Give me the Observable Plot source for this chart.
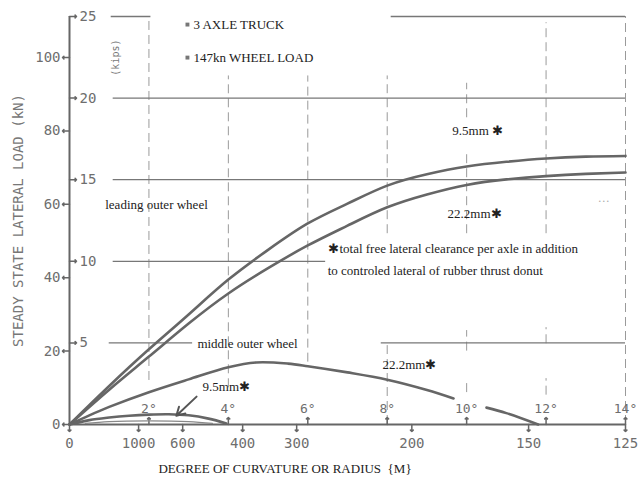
<!DOCTYPE html>
<html><head><meta charset="utf-8">
<script src="https://cdn.jsdelivr.net/npm/d3@7"></script>
<script src="https://cdn.jsdelivr.net/npm/@observablehq/plot@0.6"></script>
<style>body{margin:0;background:#fff}#chart{width:638px;height:477px}</style>
</head><body><div id="chart"></div>
<script>
const KN_PER_KIP = 4.448;
const degreeTicks = [2,4,6,8,10,12,14];
const radiusLabels = ["0","1000","600","400","300","200","150","125"];
const radiusDeg = [0,1.74,2.85,4.36,5.72,8.62,11.56,14];
const kNTicks = [0,20,40,60,80,100];
const kipTicks = [5,10,15,20,25];

// leading outer wheel
const leadDeg = [0,1,2,3,4,5,6,7,8,9,10,11,12,13,14];
const lead95 = [0,10.5,20.5,30,39.5,47.6,54.8,60.2,65.1,68.2,70.3,71.6,72.5,73,73.2];
const lead222 = [0,9.5,18.5,27.5,35.7,42.6,48.8,54.2,59.2,62.7,65.3,66.8,67.7,68.3,68.7];
// middle outer wheel 22.2mm (interrupted by the 10° label)
const midDegA = [0,0.5,1,2,3,4,4.7,5.5,6,7,8,9,9.67];
const mid222A = [0,2.5,4.8,8.8,12.3,15.6,16.9,16.6,15.9,14.2,12.2,9.4,7.1];
const midDegB = [10.5,11,11.8];
const mid222B = [4.6,3.1,0];
// middle outer wheel 9.5mm
const smallDeg = [0,0.5,1,1.5,2,2.5,3,3.5,3.95];
const mid95 = [0,1.2,1.9,2.4,2.7,2.8,2.5,1.6,0.3];
const lensDeg = [0.4,1,2,3,3.6];
const lens95 = [0.3,0.8,1.0,0.8,0.3];

// grid pieces
const hGrid = [
  {kips:25,a:1.05,b:2.05},{kips:25,a:8.1,b:14},
  {kips:20,a:1.1,b:14},{kips:15,a:1.1,b:14},{kips:10,a:1.1,b:6.45},
  {kips:5,a:1.0,b:3.1},{kips:5,a:7.85,b:14}
];
const vGrid = [
  {d:2,a:12,b:111.2},{d:4,a:10,b:95},{d:6,a:17,b:95},
  {d:8,a:52,b:95},{d:8,a:0,b:21.5},
  {d:10,a:83.6,b:93},{d:10,a:52,b:74.6},{d:10,a:20,b:25.6},{d:10,a:8.7,b:12.5},
  {d:12,a:52,b:109.5},{d:12,a:22,b:26.4},{d:12,a:8,b:12.5},
  {d:14,a:0,b:111.2}
];

const pts = (xs, ys) => xs.map((x,i)=>({x, y:ys[i]}));
const MONO = "DejaVu Sans Mono", SERIF = "Liberation Serif";
const GREY = "#6e6e6e", INK = "#222";

const lineStyle = {x:"x", y:"y", stroke:"#666", strokeWidth:2.6, curve:"catmull-rom"};

const svg = Plot.plot({
  width:638, height:477,
  marginLeft:69, marginRight:13, marginTop:16, marginBottom:53,
  x:{domain:[0,14], axis:null},
  y:{domain:[0,111.2], axis:null},
  style:{background:"#fff"},
  marks:[
    // grid
    Plot.ruleX(vGrid, {x:"d", y1:"a", y2:"b", stroke:"#9a9a9a", strokeWidth:1, strokeDasharray:"9,5"}),
    Plot.ruleY(hGrid, {y:d=>d.kips*KN_PER_KIP, x1:"a", x2:"b", stroke:"#777", strokeWidth:1.3}),
    // axes lines
    Plot.ruleY([0], {stroke:"#666", strokeWidth:2}),
    Plot.ruleX([0], {stroke:"#666", strokeWidth:2}),
    // kN ticks + labels
    Plot.vector(kNTicks, {x:()=>0, y:d=>d, length:7, rotate:-90, anchor:"start", stroke:"#666", strokeWidth:1.5}),
    Plot.text(kNTicks, {x:()=>0, y:d=>d, text:d=>String(d), dx:-9, textAnchor:"end", fontFamily:MONO, fontSize:14, fill:GREY, ariaLabel:"numtext"}),
    // kips ticks + labels
    Plot.vector(kipTicks, {x:()=>0, y:d=>d*KN_PER_KIP, length:7, rotate:90, anchor:"start", stroke:"#666", strokeWidth:1.5}),
    Plot.text(kipTicks, {x:()=>0, y:d=>d*KN_PER_KIP, text:d=>String(d), dx:10, textAnchor:"start", fontFamily:MONO, fontSize:14, fill:GREY, ariaLabel:"numtext"}),
    // degree ticks above axis
    Plot.vector(degreeTicks, {x:d=>d, y:()=>0, length:7, rotate:0, anchor:"start", stroke:"#666", strokeWidth:1.5}),
    Plot.text(degreeTicks, {x:d=>d, y:()=>0, text:d=>d+"°", dy:-16, fontFamily:MONO, fontSize:13, fill:GREY, ariaLabel:"numtext"}),
    // radius ticks below axis
    Plot.vector(radiusDeg, {x:d=>d, y:()=>0, length:7, rotate:180, anchor:"start", stroke:"#666", strokeWidth:1.5}),
    Plot.text(radiusDeg, {x:d=>d, y:()=>0, text:(d,i)=>radiusLabels[i], dy:19, fontFamily:MONO, fontSize:14, fill:GREY, ariaLabel:"numtext"}),
    // titles
    Plot.text(["STEADY STATE LATERAL LOAD (kN)"], {frameAnchor:"left", dx:-51, rotate:-90, textAnchor:"middle", fontFamily:MONO, fontSize:14, fill:"#777", ariaLabel:"ytitle"}),
    Plot.text(["(kips)"], {x:()=>1.16, y:()=>100, rotate:-90, fontFamily:MONO, fontSize:10, fill:"#777", ariaLabel:"numtext"}),
    Plot.text(["DEGREE OF CURVATURE OR RADIUS  {M}"], {x:()=>2.24, y:()=>0, dy:44, textAnchor:"start", fontFamily:SERIF, fontSize:13, fill:INK}),
    // curves
    Plot.line(pts(leadDeg, lead95), {...lineStyle, curve:"natural"}),
    Plot.line(pts(leadDeg, lead222), {...lineStyle, curve:"natural"}),
    Plot.line(pts(midDegA, mid222A), lineStyle),
    Plot.line(pts(midDegB, mid222B), lineStyle),
    Plot.line(pts(smallDeg, mid95), lineStyle),
    Plot.line(pts(lensDeg, lens95), {...lineStyle, strokeWidth:1.2, stroke:"#888"}),
    Plot.arrow([0], {x1:()=>3.2, y1:()=>7.6, x2:()=>2.69, y2:()=>2.4, headLength:9, stroke:"#555", strokeWidth:2}),
    // legend bullets
    Plot.dot([109, 100], {x:()=>2.97, y:d=>d, symbol:"square", r:2.2, fill:"#777", stroke:null}),
    // annotations
    Plot.text(["3 AXLE TRUCK"], {x:()=>3.12, y:()=>109, textAnchor:"start", fontFamily:SERIF, fontSize:13, fill:INK}),
    Plot.text(["147kn WHEEL LOAD"], {x:()=>3.12, y:()=>100, textAnchor:"start", fontFamily:SERIF, fontSize:13, fill:INK}),
    Plot.text(["leading outer wheel"], {x:()=>0.9, y:()=>60, textAnchor:"start", fontFamily:SERIF, fontSize:13, fill:INK}),
    Plot.text(["9.5mm ✱"], {x:()=>9.64, y:()=>80.1, textAnchor:"start", fontFamily:SERIF, fontSize:13, fill:INK}),
    Plot.text(["22.2mm✱"], {x:()=>9.52, y:()=>57.5, textAnchor:"start", fontFamily:SERIF, fontSize:13, fill:INK}),
    Plot.text(["✱total free lateral clearance per axle in addition"], {x:()=>6.52, y:()=>48, textAnchor:"start", fontFamily:SERIF, fontSize:13, fill:INK}),
    Plot.text(["to controled lateral of rubber thrust donut"], {x:()=>6.5, y:()=>42, textAnchor:"start", fontFamily:SERIF, fontSize:13, fill:INK}),
    Plot.text(["···"], {x:()=>13.45, y:()=>61, fontFamily:SERIF, fontSize:12, fill:"#aaa"}),
    Plot.text(["middle outer wheel"], {x:()=>3.22, y:()=>22.1, textAnchor:"start", fontFamily:SERIF, fontSize:13, fill:INK}),
    Plot.text(["9.5mm✱"], {x:()=>3.35, y:()=>10.4, textAnchor:"start", fontFamily:SERIF, fontSize:13, fill:INK}),
    Plot.text(["22.2mm✱"], {x:()=>7.88, y:()=>16.3, textAnchor:"start", fontFamily:SERIF, fontSize:13, fill:INK})
  ]
});
d3.select(svg).selectAll('g[aria-label="ytitle"] text').attr("letter-spacing","1.6px");
d3.select(svg).selectAll('g[aria-label="numtext"] text').attr("letter-spacing","0.8px");
document.getElementById("chart").appendChild(svg);
</script>
</body></html>
